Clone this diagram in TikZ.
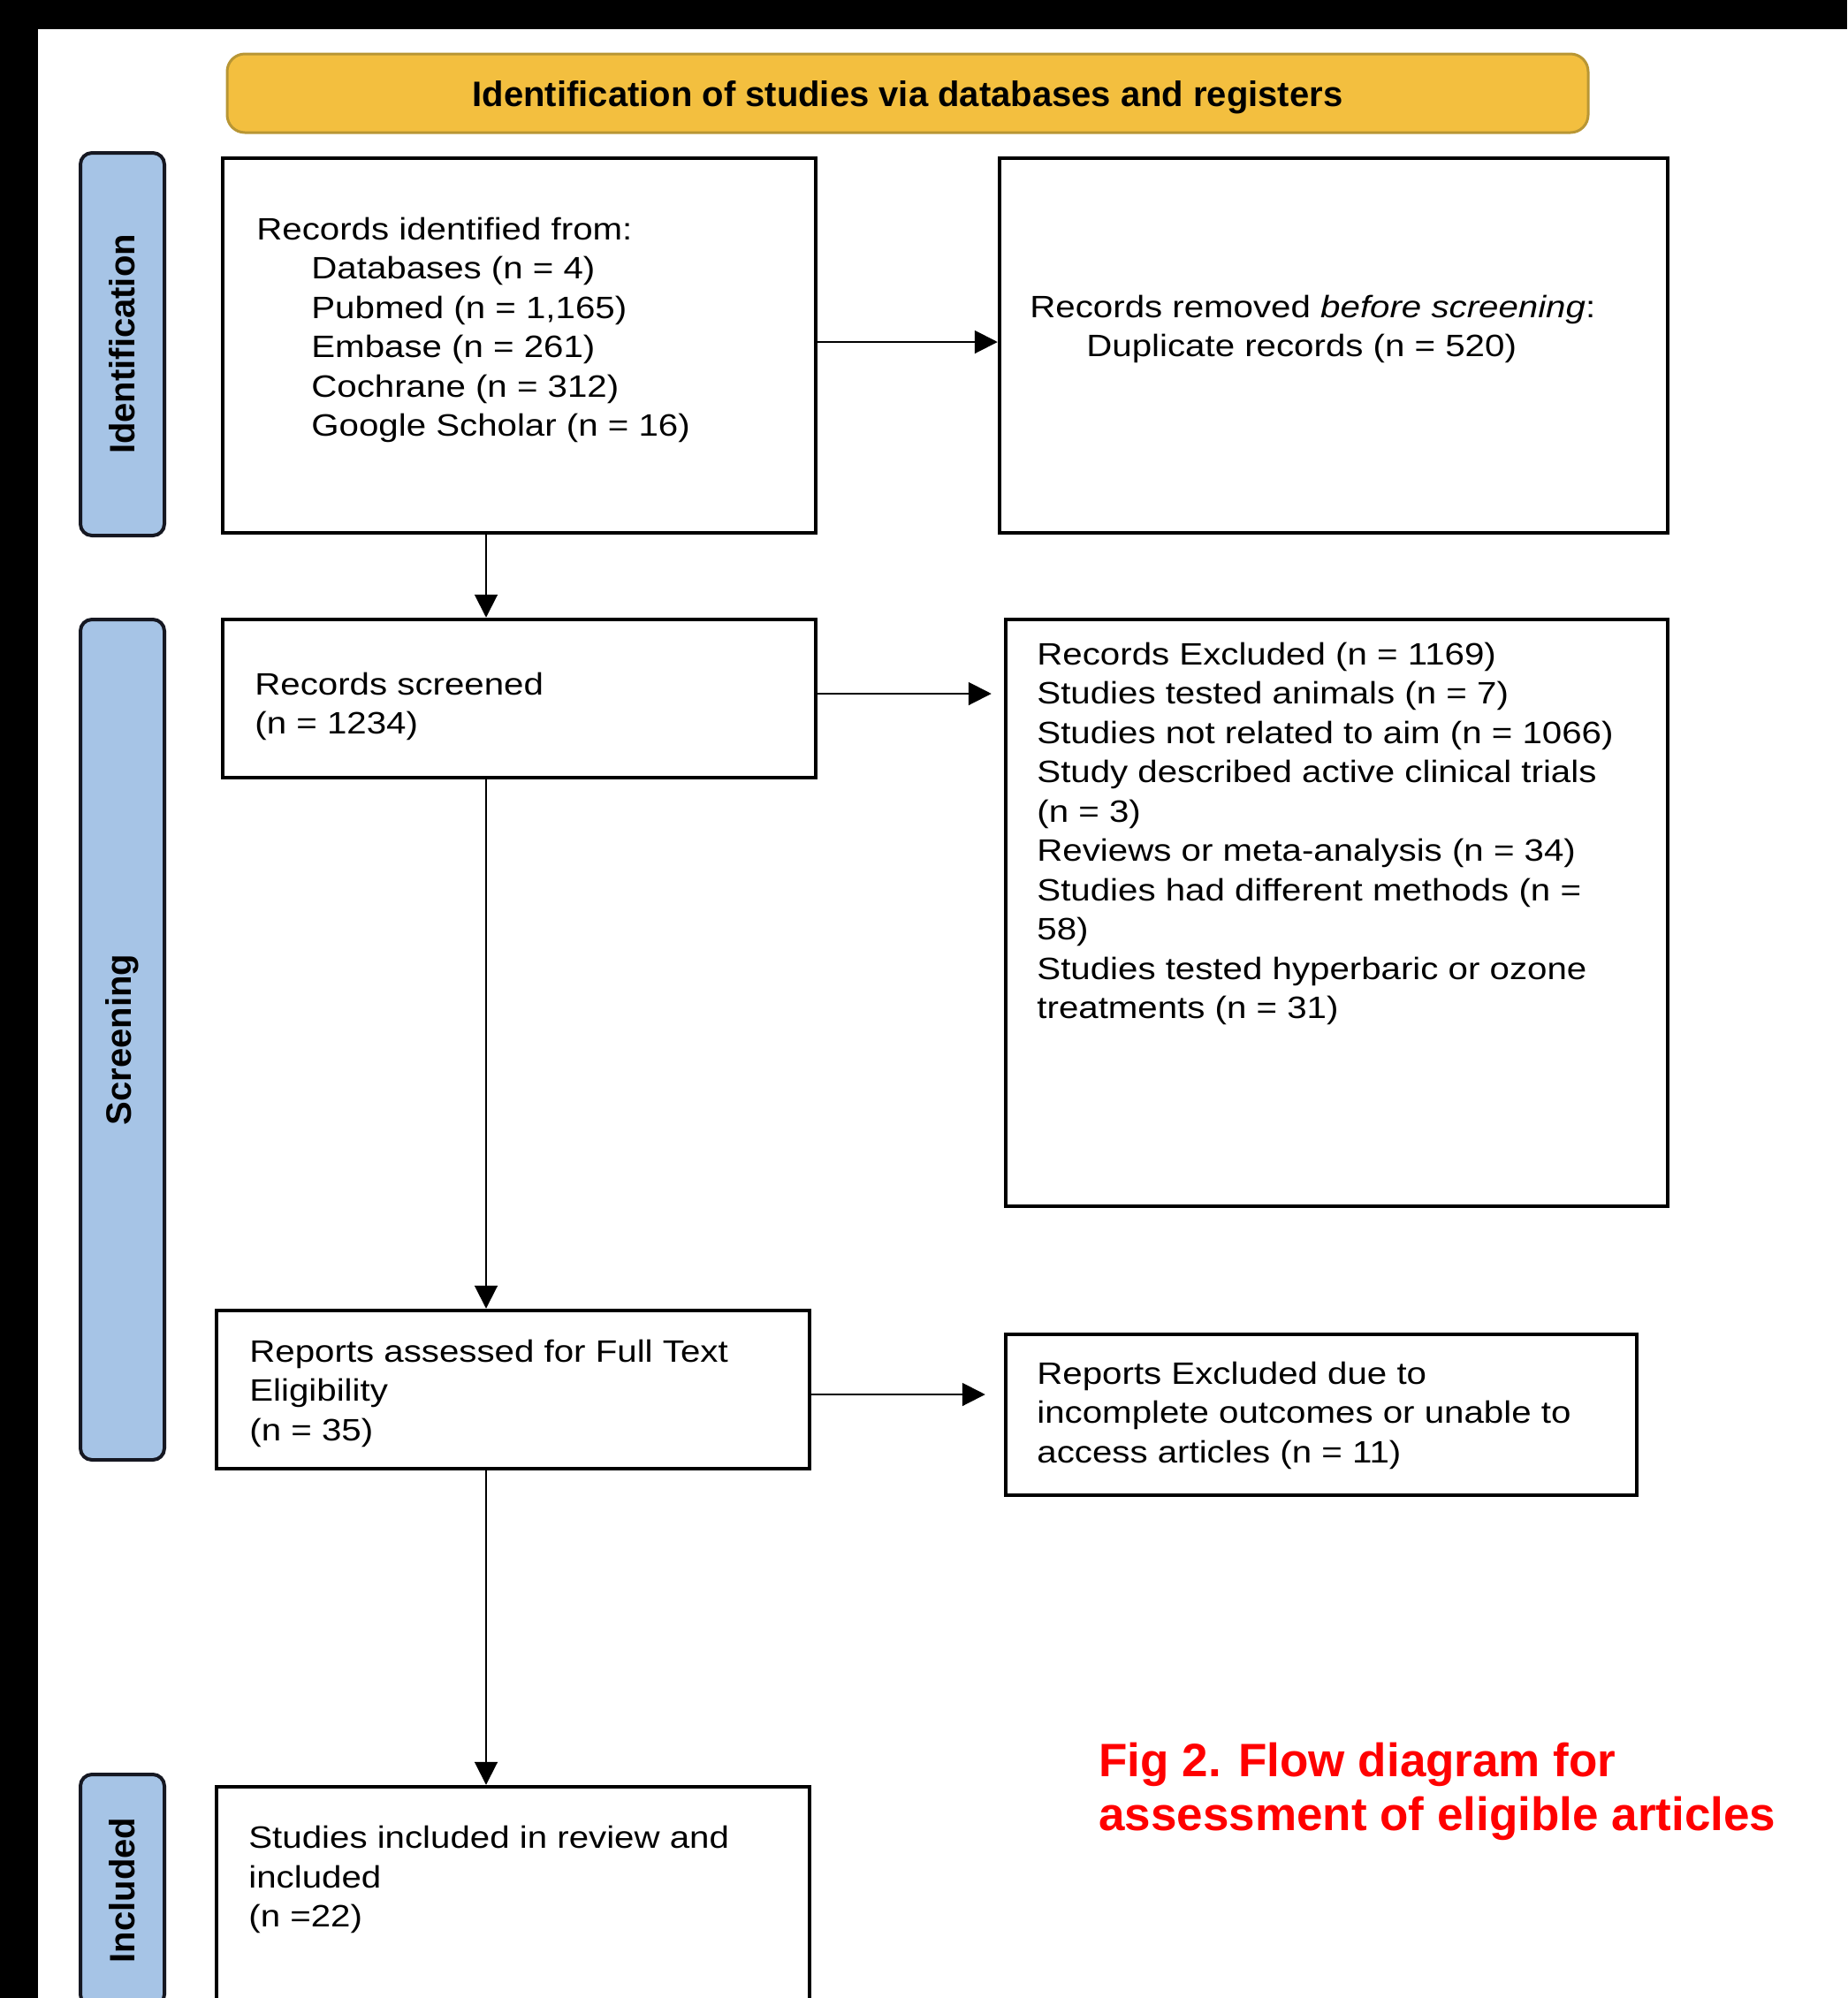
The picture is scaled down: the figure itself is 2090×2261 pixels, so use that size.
\documentclass[tikz,border=0pt]{standalone}
\usepackage{fontspec}
\setmainfont{Liberation Sans}[FakeStretch=1.15]
\newfontfamily\headsans{Liberation Sans}
\usetikzlibrary{arrows.meta}
\definecolor{Golden}{RGB}{243,191,63}
\definecolor{GoldEdge}{RGB}{184,150,52}
\definecolor{PillBlue}{RGB}{166,196,230}
\definecolor{PillEdge}{RGB}{22,24,34}
\definecolor{CapRed}{RGB}{255,0,0}

\begin{document}
\begin{tikzpicture}[x=0.5pt, y=-0.5pt,
    box/.style={draw=black, line width=2.25pt, fill=white},
    pill/.style={draw=PillEdge, fill=PillBlue, line width=2pt, rounded corners=6.5pt, rotate=90,
      minimum height=47.5pt, font=\headsans\bfseries\fontsize{20pt}{24pt}\selectfont},
    boxtext/.style={anchor=north west, inner sep=0pt, align=left, font=\fontsize{17.5pt}{22.25pt}\selectfont},
    arr/.style={line width=1pt, -{Triangle[length=13pt, width=13pt]}}]

    \useasboundingbox (0,0) rectangle (2090,2261);
    \clip (0,0) rectangle (2090,2261);

    % Black frame bands
    \fill[black] (0,0) rectangle (2090,33);
    \fill[black] (0,0) rectangle (43,2261);

    % Header
    \node[draw=GoldEdge, fill=Golden, line width=1.5pt, rounded corners=10pt, minimum width=770pt, minimum height=44.5pt,
      text depth=0pt, font=\headsans\bfseries\fontsize{20pt}{24pt}\selectfont] (head) at (1027,105.5) {Identification of studies via databases and registers};

    % Stage labels
    \node[pill, minimum width=216.5pt] (idpill) at (138.5,389.5) {Identification};
    \node[pill, minimum width=475.5pt] (scpill) at (138.5,1176.5) {Screening};
    \node[pill, minimum width=131pt] (inpill) at (138.5,2139) {Included};

    % Boxes
    \node[box, minimum width=335.5pt, minimum height=212pt] (ident) at (587.5,391) {};
    \node[box, minimum width=378pt, minimum height=212pt] (dupl) at (1509,391) {};
    \node[box, minimum width=335.5pt, minimum height=89.5pt] (screen) at (587.5,790.5) {};
    \node[box, minimum width=374.5pt, minimum height=332pt] (excl) at (1512.5,1033) {};
    \node[box, minimum width=335.5pt, minimum height=89.5pt] (elig) at (580.5,1572.5) {};
    \node[box, minimum width=357pt, minimum height=91pt] (repexcl) at (1495,1601) {};
    \node[box, minimum width=335.5pt, minimum height=139pt] (incl) at (580.5,2161) {};

    % Box texts
    \node[boxtext] (identtxt) at (290,245.5) {Records identified from:\\
      \hspace*{31pt}Databases (n = 4)\\
      \hspace*{31pt}Pubmed (n = 1,165)\\
      \hspace*{31pt}Embase (n = 261)\\
      \hspace*{31pt}Cochrane (n = 312)\\
      \hspace*{31pt}Google Scholar (n = 16)};
    \node[boxtext] (dupltxt) at (1165,333.5) {Records removed \textit{before screening}:\\
      \hspace*{32pt}Duplicate records (n = 520)};
    \node[boxtext] (screentxt) at (288,760.5) {Records screened\\(n = 1234)};
    \node[boxtext] (excltxt) at (1173,726.5) {Records Excluded (n = 1169)\\
      Studies tested animals (n = 7)\\
      Studies not related to aim (n = 1066)\\
      Study described active clinical trials\\
      (n = 3)\\
      Reviews or meta-analysis (n = 34)\\
      Studies had different methods (n =\\
      58)\\
      Studies tested hyperbaric or ozone\\
      treatments (n = 31)};
    \node[boxtext] (eligtxt) at (282,1515.5) {Reports assessed for Full Text\\Eligibility\\(n = 35)};
    \node[boxtext] (repexcltxt) at (1173,1540.5) {Reports Excluded due to\\incomplete outcomes or unable to\\access articles (n = 11)};
    \node[boxtext] (incltxt) at (281,2066) {Studies included in review and\\included\\(n =22)};

    % Caption
    \node[anchor=north west, inner sep=0pt, align=left, text=CapRed,
      font=\headsans\bfseries\fontsize{26.5pt}{30.5pt}\selectfont] (caption) at (1243,1972) {Fig 2. Flow diagram for\\assessment of eligible articles};

    % Connections
    \coordinate (spine) at (550,0);
    \coordinate (row2) at (0,785);
    \coordinate (row3) at (0,1578);
    \draw[arr] (ident.south -| spine) -- (screen.north -| spine);
    \draw[arr] (screen.south -| spine) -- (elig.north -| spine);
    \draw[arr] (elig.south -| spine) -- (incl.north -| spine);
    \draw[arr] ([yshift=2pt]ident.east) -- ([yshift=2pt]dupl.west);
    \draw[arr, shorten >=7pt] (screen.east |- row2) -- (excl.west |- row2);
    \draw[arr, shorten >=10.5pt] (elig.east |- row3) -- (repexcl.west |- row3);
\end{tikzpicture}
\end{document}
